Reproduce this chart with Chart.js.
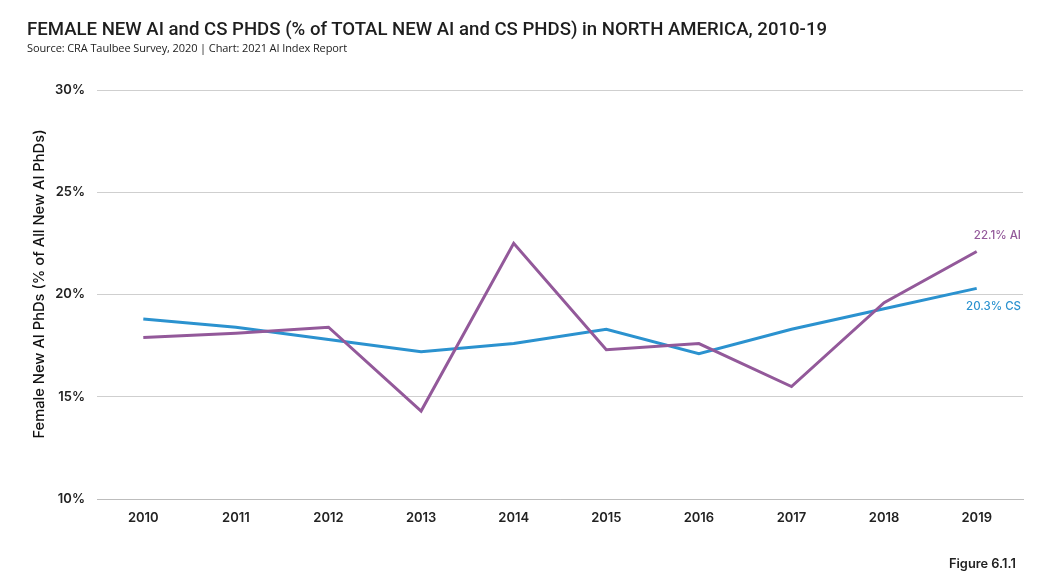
<!DOCTYPE html>
<html>
<head>
<meta charset="utf-8">
<script src="https://cdn.jsdelivr.net/npm/chart.js@4"></script>
<style>
  html, body { margin: 0; padding: 0; background: #fff; }
  #wrap { position: relative; width: 1048px; height: 583px; overflow: hidden; }
  #chart { position: absolute; left: 0; top: 0; }
  .title { position: absolute; left: 27px; top: 18px; font-family: Roboto, sans-serif; font-size: 18.6px; font-weight: 500; color: #1e1e1e; white-space: nowrap; }
  .sub { position: absolute; left: 27px; top: 40px; font-family: "Open Sans", sans-serif; font-size: 11px; color: #222; white-space: nowrap; letter-spacing: -0.1px; }
  .fig { position: absolute; left: 949px; top: 556px; font-family: Inter, sans-serif; font-size: 12.8px; font-weight: 600; color: #222; }
</style>
</head>
<body>
<div id="wrap">
  <canvas id="chart" width="1048" height="583"></canvas>
  <div class="title">FEMALE NEW AI and CS PHDS (% of TOTAL NEW AI and CS PHDS) in NORTH AMERICA, 2010-19</div>
  <div class="sub">Source: CRA Taulbee Survey, 2020 | Chart: 2021 AI Index Report</div>
  <div class="fig">Figure 6.1.1</div>
</div>
<script>
// data
const years = ["2010", "2011", "2012", "2013", "2014", "2015", "2016", "2017", "2018", "2019"];
const aiShare = [17.9, 18.1, 18.4, 14.3, 22.5, 17.3, 17.6, 15.5, 19.6, 22.1];
const csShare = [18.8, 18.4, 17.8, 17.2, 17.6, 18.3, 17.1, 18.3, 19.3, 20.3];
const yTicks = [10, 15, 20, 25, 30];
const yTitle = "Female New AI PhDs (% of All New AI PhDs)";

const purple = "#93599a";
const blue = "#2b92cf";

// end-of-line labels + y title
const extras = {
  id: "extras",
  afterDatasetsDraw(chart) {
    const ctx = chart.ctx;
    const right = chart.chartArea.right - 2;
    ctx.save();
    ctx.font = "500 11.5px Inter, sans-serif";
    ctx.textAlign = "right";
    ctx.textBaseline = "middle";
    const ai = chart.getDatasetMeta(0).data[years.length - 1];
    const cs = chart.getDatasetMeta(1).data[years.length - 1];
    ctx.fillStyle = purple;
    ctx.fillText(aiShare[aiShare.length - 1].toFixed(1) + "% AI", right, ai.y - 16);
    ctx.fillStyle = blue;
    ctx.fillText(csShare[csShare.length - 1].toFixed(1) + "% CS", right, cs.y + 18);

    // rotated y title
    ctx.translate(40, 284);
    ctx.rotate(-Math.PI / 2);
    ctx.textAlign = "center";
    ctx.fillStyle = "#111";
    ctx.font = "500 14.7px Inter, sans-serif";
    ctx.fillText(yTitle, 0, 0);
    ctx.restore();
  }
};

new Chart(document.getElementById("chart"), {
  type: "line",
  data: {
    labels: years,
    datasets: [
      { label: "AI", data: aiShare, borderColor: purple, borderWidth: 3, pointRadius: 0, tension: 0 },
      { label: "CS", data: csShare, borderColor: blue, borderWidth: 3, pointRadius: 0, tension: 0 }
    ]
  },
  options: {
    responsive: false,
    animation: false,
    layout: { padding: { top: 90, right: 25, bottom: 0, left: 0 } },
    plugins: { legend: { display: false }, tooltip: { enabled: false } },
    scales: {
      x: {
        offset: true,
        grid: { display: false, drawTicks: false },
        border: { display: true, color: "#bdbdbd" },
        ticks: { padding: 11, color: "#222", font: { family: "Inter", size: 13, weight: "600" } },
        afterFit(s) { s.height = 84; }
      },
      y: {
        min: 10, max: 30,
        afterBuildTicks(s) { s.ticks = yTicks.map(v => ({ value: v })); },
        grid: { color: "#cfcfcf", drawTicks: false },
        border: { display: false },
        ticks: {
          padding: 12, color: "#222",
          font: { family: "Inter", size: 13, weight: "600" },
          callback: v => v + "%"
        },
        afterFit(s) { s.width = 97; }
      }
    }
  },
  plugins: [extras]
});
</script>
</body>
</html>
